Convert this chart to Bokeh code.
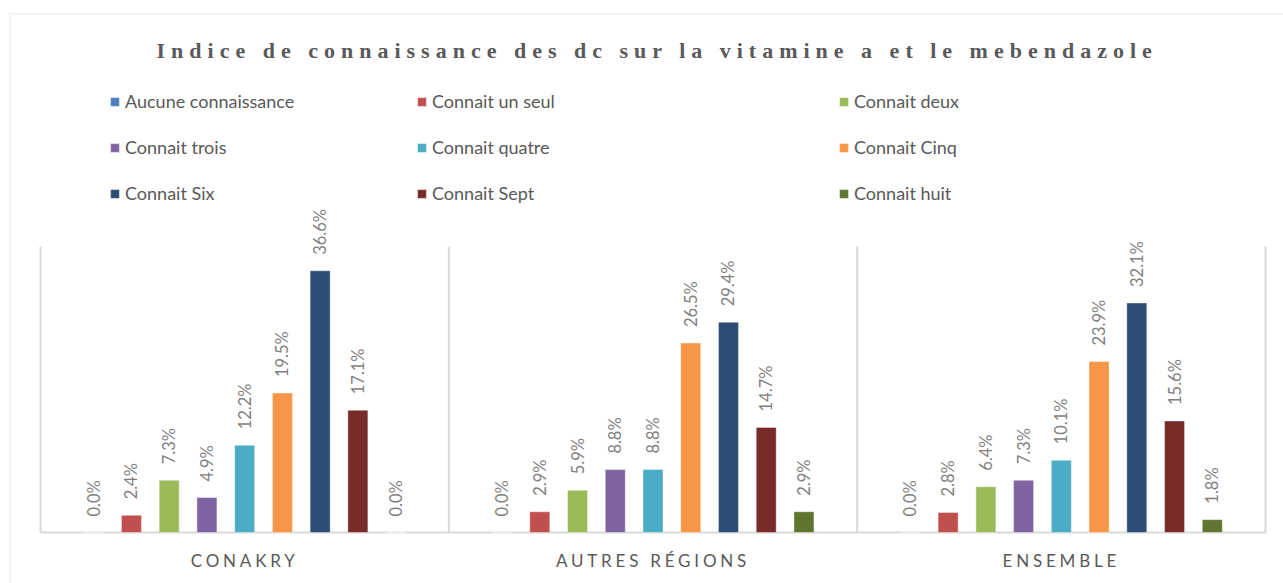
from math import pi
from bokeh.plotting import figure
from bokeh.layouts import column
from bokeh.models import (Range1d, ColumnDataSource, LabelSet, Legend,
                          LegendItem, Label, BoxAnnotation)
from bokeh.core.properties import value
from bokeh.embed import file_html
from bokeh.resources import INLINE

# ---------------- data ----------------
groups = ["CONAKRY", "AUTRES RÉGIONS", "ENSEMBLE"]
series = ["Aucune connaissance", "Connait un seul", "Connait deux",
          "Connait trois", "Connait quatre", "Connait Cinq",
          "Connait Six", "Connait Sept", "Connait huit"]
conakry = [0.0, 2.4, 7.3, 4.9, 12.2, 19.5, 36.6, 17.1, 0.0]
autres_regions = [0.0, 2.9, 5.9, 8.8, 8.8, 26.5, 29.4, 14.7, 2.9]
ensemble = [0.0, 2.8, 6.4, 7.3, 10.1, 23.9, 32.1, 15.6, 1.8]
colors = ["#4F81BD", "#C0504D", "#9BBB59", "#8064A2", "#4BACC6",
          "#F79646", "#2C4D75", "#772C2A", "#5F7530"]
title_text = "Indice de connaissance des dc sur la vitamine a et le mebendazole"
y_max = 40

values_by_group = [conakry, autres_regions, ensemble]

# ---------------- layout constants (pixels) ----------------
W, H = 1283, 583
TOP_H = 80            # title strip
BOT_H = 38            # category-label strip
MID_H = H - TOP_H - BOT_H
PLOT_LEFT, PLOT_RIGHT = 40, 1265      # plot-area edges
PLOT_TOP, PLOT_BOTTOM = 246, 532
n = len(series)
gpad = 1.82                            # gap between groups, in bar slots
slot_px = (PLOT_RIGHT - PLOT_LEFT) / (len(groups) * (n + gpad))
ypx = (PLOT_BOTTOM - PLOT_TOP) / y_max
TITLE_LS = 6.0        # letter spacing of the title (px)
CAT_LS = 3.8          # letter spacing of the category labels (px)

left_edge = -0.5 - gpad / 2
x0 = left_edge - PLOT_LEFT / slot_px
x_range = Range1d(x0, x0 + W / slot_px)
GRID = "#d9d9d9"
TXT = "#595959"


def make_fig(h, y_range=None, styles=None):
    f = figure(width=W, height=h, x_range=x_range,
               y_range=y_range or Range1d(0, 1),
               output_backend="svg", toolbar_location=None,
               x_axis_location=None, y_axis_location=None, min_border=0)
    f.outline_line_color = None
    f.xgrid.visible = False
    f.ygrid.visible = False
    if styles:
        f.styles = styles
    return f


def border(f, top):
    f.add_layout(BoxAnnotation(left=9.5, right=W + 20, top=top,
                               bottom=f.height + 20,
                               left_units="canvas", right_units="canvas",
                               top_units="canvas", bottom_units="canvas",
                               fill_alpha=0, line_color=GRID, line_width=2))


def slot(k, i):
    return k * (n + gpad) + i


# ---------------- title strip ----------------
pt = make_fig(TOP_H, styles={"letter-spacing": "%.1fpx" % TITLE_LS})
pt.add_layout(Label(x=156, y=50, x_units="canvas", y_units="canvas",
                    text=title_text, text_align="left",
                    text_baseline="middle", text_font="Liberation Serif",
                    text_font_size="22px", text_font_style="bold",
                    text_color=TXT))
border(pt, 13.5)

# ---------------- main chart ----------------
mid_bottom = PLOT_BOTTOM - TOP_H
y0 = -(MID_H - mid_bottom) / ypx
p = make_fig(MID_H, y_range=Range1d(y0, y0 + MID_H / ypx))

edges = [left_edge + k * (n + gpad) for k in range(len(groups) + 1)]
p.segment(x0=edges, y0=[0] * len(edges), x1=edges, y1=[y_max] * len(edges),
          line_color=GRID, line_width=2)
p.segment(x0=[edges[0]], y0=[0], x1=[edges[-1]], y1=[0],
          line_color=GRID, line_width=2)

renderers = []
for i, s in enumerate(series):
    src = ColumnDataSource(dict(
        x=[slot(k, i) for k in range(len(groups))],
        top=[vals[i] for vals in values_by_group],
        lab=["%.1f%%" % vals[i] for vals in values_by_group],
    ))
    r = p.vbar(x="x", top="top", width=0.53, source=src,
               fill_color=colors[i], line_color="white", line_alpha=0.5,
               line_width=0.8)
    renderers.append(r)
    p.add_layout(LabelSet(x="x", y="top", text="lab", source=src,
                          angle=pi / 2, text_align="left",
                          text_baseline="middle", y_offset=16,
                          text_font=value("Lato"), text_font_size="16.5px",
                          text_color="#7f7f7f"))

col_x = [109, 416, 838]
for c in range(3):
    items = [LegendItem(label=series[j], renderers=[renderers[j]])
             for j in range(c, n, 3)]
    leg = Legend(items=items, location=(col_x[c], MID_H - (96 - TOP_H) - 108),
                 orientation="vertical",
                 label_text_font="Lato", label_text_font_size="18px",
                 label_text_color=TXT, glyph_width=11, glyph_height=11,
                 label_height=20, spacing=24, padding=0, margin=0,
                 label_standoff=5, border_line_color=None,
                 background_fill_alpha=0)
    p.add_layout(leg)
border(p, -20)

# ---------------- category labels strip ----------------
pb = make_fig(BOT_H, styles={"letter-spacing": "%.1fpx" % CAT_LS})
gsrc = ColumnDataSource(dict(
    x=[slot(k, (n - 1) / 2) for k in range(len(groups))],
    y=[0.6] * len(groups), t=groups,
    dx=[-len(g) * CAT_LS / 2 for g in groups]))
pb.add_layout(LabelSet(x="x", y="y", text="t", source=gsrc, x_offset="dx",
                       text_align="center", text_baseline="middle",
                       text_font=value("Lato"), text_font_size="17px",
                       text_color=TXT))
border(pb, -20)

layout = column(pt, p, pb, spacing=0)
open("out.html", "w").write(file_html(layout, INLINE))
